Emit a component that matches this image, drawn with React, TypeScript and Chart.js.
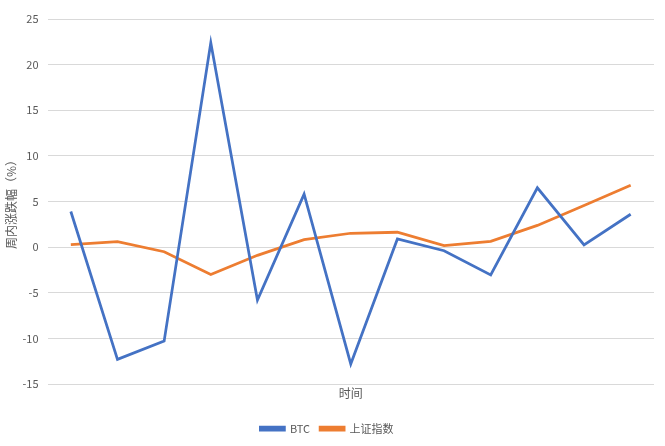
import React, { useEffect, useRef } from "react";
import { Chart, registerables } from "chart.js";

Chart.register(...registerables);

const weeks = ["W1", "W2", "W3", "W4", "W5", "W6", "W7", "W8", "W9", "W10", "W11", "W12", "W13"];
const btc = [3.9, -12.3, -10.3, 22.4, -5.8, 5.8, -12.8, 0.9, -0.4, -3.05, 6.5, 0.25, 3.6];
const sse = [0.27, 0.6, -0.5, -3.0, -0.9, 0.82, 1.52, 1.63, 0.16, 0.64, 2.38, 4.55, 6.78];
const yTicks = [-15, -10, -5, 0, 5, 10, 15, 20, 25];

const FONT = "'Noto Sans CJK SC', 'Noto Sans', sans-serif";
const TEXT = "#595959";

export default function App() {
  const ref = useRef<HTMLCanvasElement | null>(null);
  useEffect(() => {
    if (!ref.current) return;
    const chart = new Chart(ref.current, {
      type: "line",
      data: {
        labels: weeks,
        datasets: [
          {
            label: "BTC",
            data: btc,
            borderColor: "#4472C4",
            backgroundColor: "#4472C4",
            borderWidth: 2.75,
            pointRadius: 0,
            tension: 0,
          },
          {
            label: "上证指数",
            data: sse,
            borderColor: "#ED7D31",
            backgroundColor: "#ED7D31",
            borderWidth: 2.75,
            pointRadius: 0,
            tension: 0,
          },
        ],
      },
      options: {
        responsive: false,
        animation: false,
        layout: { padding: { left: 0, right: 11, top: 19, bottom: 2 } },
        plugins: {
          legend: {
            position: "bottom",
            labels: {
              font: { family: FONT, size: 11 },
              color: TEXT,
              boxWidth: 24,
              boxHeight: 3,
              padding: 10,
            },
          },
          tooltip: { enabled: false },
        },
        scales: {
          x: {
            offset: true,
            grid: { display: false },
            border: { display: false },
            ticks: { display: false },
            title: {
              display: true,
              text: "时间",
              color: TEXT,
              font: { family: FONT, size: 12 },
              padding: { top: 0, bottom: 12 },
            },
            afterFit: (s: any) => {
              s.height = 29;
            },
          },
          y: {
            min: -15,
            max: 25,
            afterBuildTicks: (s: any) => {
              s.ticks = yTicks.map((v) => ({ value: v }));
            },
            grid: { color: "#d9d9d9", lineWidth: 1, drawTicks: false },
            border: { display: false },
            ticks: {
              color: TEXT,
              font: { family: FONT, size: 11 },
              padding: 9,
            },
            title: {
              display: true,
              text: "周内涨跌幅（%）",
              color: TEXT,
              font: { family: FONT, size: 12 },
              padding: { top: 4, bottom: 0 },
            },
            afterFit: (s: any) => {
              s.width = 47.5;
            },
          },
        },
      },
    });
    return () => chart.destroy();
  }, []);
  return (
    <div style={{ position: "absolute", left: 0, top: 0, width: 665, height: 446, background: "#fff" }}>
      <canvas ref={ref} width={665} height={446} style={{ display: "block" }} />
    </div>
  );
}
